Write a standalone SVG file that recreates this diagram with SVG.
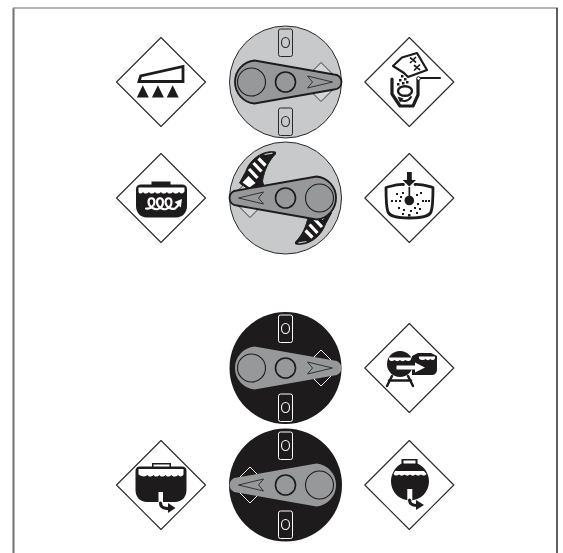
<svg xmlns="http://www.w3.org/2000/svg" width="563" height="553" viewBox="0 0 563 553">
<style>
.dia{fill:#fff;stroke:#2a2829;stroke-width:1.1;stroke-linejoin:round}
.k{fill:#1d1b1c}
.ks{fill:none;stroke:#1d1b1c;stroke-linecap:round;stroke-linejoin:round}
.w{fill:#fff}
.ws{fill:none;stroke:#fff}
.hub{stroke:#1d1b1c;stroke-width:1.6;fill:#97989a}
.big{stroke:#1d1b1c;stroke-width:1.1;fill:#97989a}
</style>
<defs>
<path id="d" class="dia" d="M0,-44.500L44.500,0L0,44.500L-44.500,0Z"/>
<g id="hl">
<path d="M-31,-21.500L48.500,-7.500A7.500,7.500 0 0 1 48.500,7.500L-31,21.500A21.600,21.600 0 0 1 -31,-21.500Z" fill="#97989a" stroke="#1d1b1c" stroke-width="1.800"/>
<circle class="big" cx="-34" cy="0" r="14"/>
<path d="M22,-6L47,0L22,6L27,0Z" fill="none" stroke="#2a2829" stroke-width=".9"/>
</g>
<g id="hd">
<path d="M-31,-21.500L48.500,-7.500A7.500,7.500 0 0 1 48.500,7.500L-31,21.500A21.600,21.600 0 0 1 -31,-21.500Z" fill="#97989a"/>
<circle class="big" cx="-34" cy="0" r="14"/>
<path d="M22,-6L47,0L22,6L27,0Z" fill="none" stroke="#2a2829" stroke-width=".9"/>
</g>
<g id="slotsL">
<rect x="-7" y="-53" width="14" height="27.500" rx="2" fill="none" stroke="#2a2829" stroke-width="1"/>
<ellipse cx="0" cy="-39.500" rx="4" ry="5" fill="none" stroke="#2a2829" stroke-width="1.100"/>
<rect x="-7" y="26" width="14" height="27.500" rx="2" fill="none" stroke="#2a2829" stroke-width="1"/>
<ellipse cx="0" cy="39.500" rx="4" ry="5" fill="none" stroke="#2a2829" stroke-width="1.100"/>
</g>
<g id="slotsD">
<rect x="-7" y="-53" width="14" height="27.500" rx="2" fill="none" stroke="#fff" stroke-width="1"/>
<ellipse cx="0" cy="-39.500" rx="4" ry="5" fill="none" stroke="#fff" stroke-width="1.100"/>
<rect x="-7" y="26" width="14" height="27.500" rx="2" fill="none" stroke="#fff" stroke-width="1"/>
<ellipse cx="0" cy="39.500" rx="4" ry="5" fill="none" stroke="#fff" stroke-width="1.100"/>
</g>
<g id="cres">
<path d="M-10,-46C-22,-48 -35,-40 -40,-26L-46,-15L-36,-8L-22,-13L-23,-17C-21,-29 -16,-38 -10,-44Z" fill="#1d1b1c" stroke="#1d1b1c" stroke-width="1" stroke-linejoin="round"/>
<path d="M-43,-15.500L-37,-22L-30,-15L-36,-10.500Z" fill="#fff"/>
<path d="M-36.500,-29L-28,-20M-32,-35L-24,-26.500M-27,-39.500L-20,-32.500" stroke="#fff" stroke-width="3.200" fill="none"/>
<path d="M-21,-43.500L-13,-44.800" stroke="#c8c9cb" stroke-width="1.200" fill="none"/>
</g>
</defs>

<g id="frame" fill="none">
<path d="M13.500,553V8" stroke="#6f7072" stroke-width="2"/>
<path d="M13,8H558" stroke="#9a9b9d" stroke-width="1.600"/>
<path d="M557,8V553" stroke="#1d1b1c" stroke-width="1.400"/>
</g>

<g id="dial-1" transform="translate(285.500,82)">
<circle r="56" fill="#c8c9cb" stroke="#2a2829" stroke-width="1"/>
<use href="#slotsL"/>
<path d="M35.500,-19.500L55,0L35.500,19.500L16,0Z" fill="#d4d5d7" stroke="#2a2829" stroke-width=".9"/>
<use href="#hl"/>
<circle class="hub" r="10"/>
</g>

<g id="dial-2" transform="translate(285.500,198)">
<circle r="56" fill="#c8c9cb" stroke="#2a2829" stroke-width="1"/>
<path d="M-35.500,-19.500L-16,0L-35.500,19.500L-55,0Z" fill="#d4d5d7" stroke="#2a2829" stroke-width=".9"/>
<use href="#cres"/>
<use href="#cres" transform="rotate(180)"/>
<use href="#hl" transform="rotate(180)"/>
<circle class="hub" r="10"/>
</g>

<g id="dial-3" transform="translate(285.500,368)">
<circle r="56" fill="#1d1b1c"/>
<use href="#slotsD"/>
<path d="M35.500,-18L53.500,0L35.500,18L17.500,0Z" fill="none" stroke="#fff" stroke-width="1"/>
<use href="#hd"/>
<circle class="hub" r="10"/>
</g>

<g id="dial-4" transform="translate(285.500,485)">
<circle r="56.500" fill="#1d1b1c"/>
<use href="#slotsD"/>
<path d="M-35.500,-18L-17.500,0L-35.500,18L-53.500,0Z" fill="none" stroke="#fff" stroke-width="1"/>
<use href="#hd" transform="rotate(180)"/>
<circle class="hub" r="10"/>
</g>

<g id="sym-1">
<use href="#d" x="161" y="82"/>
<path d="M139,81.500L140.700,76L183,66.500V81.500Z" fill="#fff" stroke="#1d1b1c" stroke-width="2.800" stroke-linejoin="miter"/>
<path class="k" d="M136.800,97.500L142.800,85.300L148.800,97.500ZM151.900,97.500L157.900,85.300L163.900,97.500ZM166.700,97.500L172.700,85.300L178.700,97.500Z"/>
</g>

<g id="sym-2">
<use href="#d" x="409.300" y="82"/>
<path d="M393,66L402,57.500L417,53L427,70L408,77L404,73Z" fill="#fff" stroke="#1d1b1c" stroke-width="2.200" stroke-linejoin="round"/>
<path class="ks" stroke-width="1.700" d="M410.500,58L415.500,62M415.500,57.500L410.500,62.500M414.500,65.500L419.500,69.500M419.500,65L414.500,70"/>
<path class="ks" stroke-width="3.200" d="M392,79V94L400,106H413L418,95V79"/>
<path class="ks" stroke-width="2.200" d="M418,78H440"/>
<circle cx="418.500" cy="78.500" r="1.800" fill="#fff" stroke="#1d1b1c" stroke-width="1"/>
<ellipse cx="405" cy="91" rx="7" ry="4.800" fill="none" stroke="#1d1b1c" stroke-width="2.400"/>
<path class="ks" stroke-width="2" d="M411,97C408,102 402,102 400,99"/>
<path class="k" d="M397.500,96.500L403.500,98.500L400,102.500Z"/>
<path class="k" d="M401,75h2.500v2.500h-2.500zM404,78h2.500v2.500h-2.500zM399,79h2.500v2.500h-2.500zM402,82h2.500v2.500h-2.500zM397,83h2.500v2.500h-2.500zM406,81h2.500v2.500h-2.500z"/>
</g>

<g id="sym-3">
<use href="#d" x="161" y="198"/>
<path class="k" d="M151.500,181.500H170.500V184.500H182C185,184.500 187,186 187,189V206C187,212 183,217.500 176,217.500H147C140,217.500 136,212 136,206V189C136,186 138,184.500 141,184.500H151.500Z"/>
<path class="w" d="M138.500,187.500H184.500V191.500C183,194 180.500,194 179,192C177,194 174.500,194 173,192C171,194 168.500,194 167,192C165,194 162.500,194 161,192C159,194 156.500,194 155,192C153,194 150.500,194 149,192C147,194 144.500,194 143,192C141.500,194 139.500,194 138.500,192Z"/>
<path class="ws" stroke-width="2.200" stroke-linecap="round" d="M146,208.500C150,209.500 154.500,206 154.500,202C154.500,197 148.500,197 148.500,202C148.500,207 155,210 158,209C161,208 163,205.500 163,202C163,197 157,197 157,202C157,207 163,210 166,209C169,208 171.500,205.500 171.500,202C171.500,197 165.500,197 165.500,202C165.500,207 172,210 175,208.500L178.500,205"/>
<path class="w" d="M182,199L180.800,207.500L174.500,202Z"/>
</g>

<g id="sym-4">
<use href="#d" x="409.300" y="198"/>
<path class="ks" stroke-width="2.800" d="M403.500,184.500C397,184 392,186 386,187.500C386,198 386,207 388,212C390,216 395,218 409.300,218C424,218 429,216 431,212C433,207 433,198 433,187.500C427,186 421,184 415,184.500"/>
<path class="k" d="M407,172H411.800V180H416L409.300,186.500L402.600,180H407Z"/>
<rect x="408.500" y="187" width="1.700" height="9" class="k"/>
<circle cx="409.300" cy="200.500" r="4.800" class="k"/>
<path class="k" d="M396,193h2v2h-2zM402,192h2v2h-2zM420,192h2v2h-2zM416,194h2v2h-2zM400,196h2v2h-2zM391,200h2v2h-2zM395,200h2v2h-2zM399,200h2v2h-2zM422,200h2v2h-2zM425,200h2v2h-2zM428,200h2v2h-2zM417,203h2v2h-2zM398,207h2v2h-2zM403,209h2v2h-2zM414,207h2v2h-2zM419,208h2v2h-2zM410,210h2v2h-2zM402,213h2v2h-2zM416,212h2v2h-2zM408,214h2.500v2.500h-2.500z"/>
</g>

<g id="sym-5">
<use href="#d" x="409.300" y="368"/>
<path class="k" d="M412,356L418,353H431L437,356V369C437,373 435,375 431,375H412Z"/>
<path class="w" d="M419,356.500H435V358.500C433.500,360.500 431.500,360.500 430.500,359C429,360.500 427,360.500 425.500,359C424,360.500 421,360.500 419,358.500Z"/>
<circle cx="400" cy="364" r="13" class="k"/>
<path class="w" d="M389,357.500H411V359.500C409.500,361.500 407,361.500 405.500,360C404,361.500 401,361.500 400,360C398.500,361.500 396,361.500 394.500,360C393,361.500 390.500,361.500 389,359.500Z"/>
<path class="ks" stroke-width="2.500" d="M392,376L387,386M408,376L413,386M389,380.500H411"/>
<path class="w" d="M396.500,365.500H415V362.500L425,367.500L415,372.500V369.500H396.500Z"/>
</g>

<g id="sym-6">
<use href="#d" x="161" y="485"/>
<path class="k" d="M152,463H171V466.500H182C185,466.500 186.500,468 186.500,471V490C186.500,497 182,502 175,502H147C140,502 135.500,497 135.500,490V471C135.500,468 137,466.500 140,466.500H152Z"/>
<path class="w" d="M153.500,464.500H169.500V466.500H153.500ZM138.500,469H183.500V474.500C182,477 179.500,477 178,475C176,477 173,477 171.500,475C169.500,477 167,477 165.500,475C163.500,477 161,477 159.500,475C157.500,477 155,477 153.500,475C151.500,477 149,477 147.500,475C145.500,477 142,477 138.500,474.500Z"/>
<rect x="158.500" y="492" width="4.500" height="11" class="w"/>
<path class="ks" stroke-width="3.200" stroke-linecap="butt" d="M160.500,503C160.500,507 163,508.500 169,508.500"/>
<path class="k" d="M168,503L175.500,508L168,513Z"/>
</g>

<g id="sym-7">
<use href="#d" x="409.300" y="485"/>
<path class="k" d="M401.500,459H417.500V463.500C425,467 429,474 429,481.500A19,19 0 0 1 391,481.500C391,474 395,467 401.500,463.500Z"/>
<rect x="403.500" y="460.500" width="12" height="3" class="w"/>
<path class="w" d="M395,471H424C425,472.500 426,473 426.500,474C425,476 422.500,476 421,474.500C419.500,476 417,476 415.500,474.500C414,476 411.500,476 410,474.500C408.500,476 406,476 404.500,474.500C403,476 400.500,476 399,474.500C397.500,476 395,476 393.500,474C394,473 394.500,472 395,471Z"/>
<rect x="407.300" y="489" width="5" height="11" class="w"/>
<path class="ks" stroke-width="3" stroke-linecap="butt" d="M409.500,500C409.500,504 412,505.500 417,505.500"/>
<path class="k" d="M416,500L424,505L416,510Z"/>
</g>
</svg>
